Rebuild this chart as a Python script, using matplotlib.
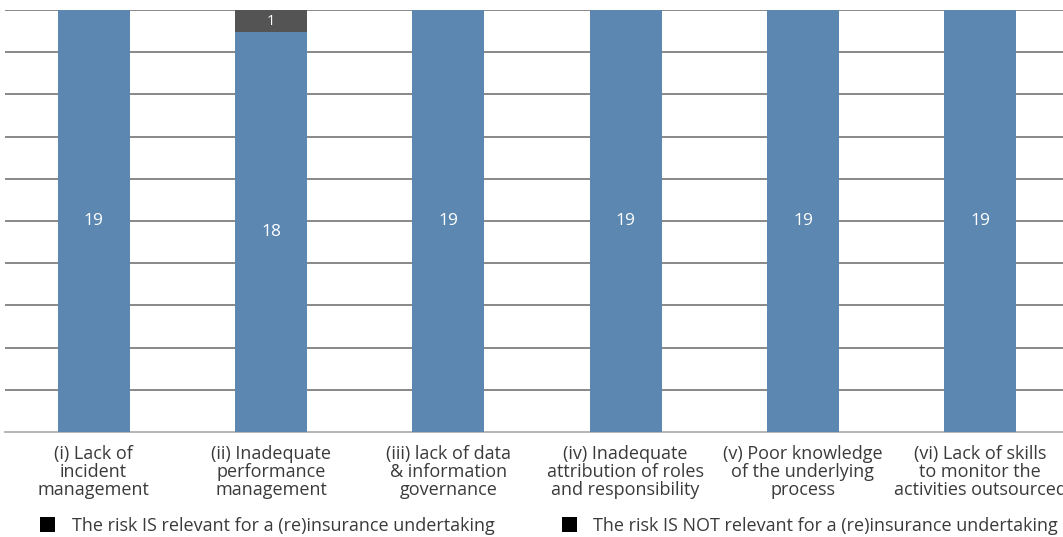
import numpy as np
import matplotlib
matplotlib.use("Agg")
import matplotlib.pyplot as plt
from matplotlib.patches import Patch

plt.rcParams['font.family'] = ['Open Sans', 'DejaVu Sans']

categories = [
    "(i) Lack of\nincident\nmanagement",
    "(ii) Inadequate\nperformance\nmanagement",
    "(iii) lack of data\n& information\ngovernance",
    "(iv) Inadequate\nattribution of roles\nand responsibility",
    "(v) Poor knowledge\nof the underlying\nprocess",
    "(vi) Lack of skills\nto monitor the\nactivities outsourced",
]
relevant = [19, 18, 19, 19, 19, 19]
not_relevant = [0, 1, 0, 0, 0, 0]
legend_labels = [
    "The risk IS relevant for a (re)insurance undertaking",
    "The risk IS NOT relevant for a (re)insurance undertaking",
]

blue = "#5b87b1"
grey = "#545454"
text_col = "#3a3a3a"

rel = np.array(relevant, dtype=float)
nrel = np.array(not_relevant, dtype=float)
total = rel + nrel
rel_pct = rel / total * 100
nrel_pct = nrel / total * 100

fig = plt.figure(figsize=(10.63, 5.37), dpi=100)
ax = fig.add_axes([5 / 1063, 105 / 537, 1064 / 1063, 422 / 537])

x = np.arange(len(categories))
b1 = ax.bar(x, rel_pct, width=0.405, color=blue, zorder=3)
b2 = ax.bar(x, nrel_pct, width=0.405, bottom=rel_pct, color=grey, zorder=3)

ax.bar_label(b1, labels=[str(v) for v in relevant], label_type='center',
             color='white', fontsize=12.5)
ax.bar_label(b2, labels=[str(v) if v else "" for v in not_relevant],
             label_type='center', color='white', fontsize=10.5)

ax.set_xlim(-0.5, len(categories) - 0.5)
ax.set_ylim(0, 100)
ax.set_yticks(np.arange(10, 101, 10))
ax.yaxis.grid(True, color="#7f7f7f", linewidth=1.3, zorder=0)
ax.tick_params(axis='y', left=False, labelleft=False)
ax.tick_params(axis='x', bottom=False, pad=6)
ax.set_xticks(x)
ax.set_xticklabels(categories, fontsize=13, color=text_col, linespacing=1.0)

for s in ['top', 'left', 'right']:
    ax.spines[s].set_visible(False)
ax.spines['bottom'].set_color("#b0b0b0")
ax.spines['bottom'].set_linewidth(1.3)

handles = [Patch(facecolor='black'), Patch(facecolor='black')]
fig.legend(handles, legend_labels, loc='lower left', bbox_to_anchor=(40 / 1063, 0.004),
           ncol=2, frameon=False, fontsize=13, borderpad=0, borderaxespad=0,
           handlelength=0.85, handleheight=0.85,
           handletextpad=0.9, columnspacing=3.72, labelcolor=text_col)

fig.savefig("out.png", dpi=100)
